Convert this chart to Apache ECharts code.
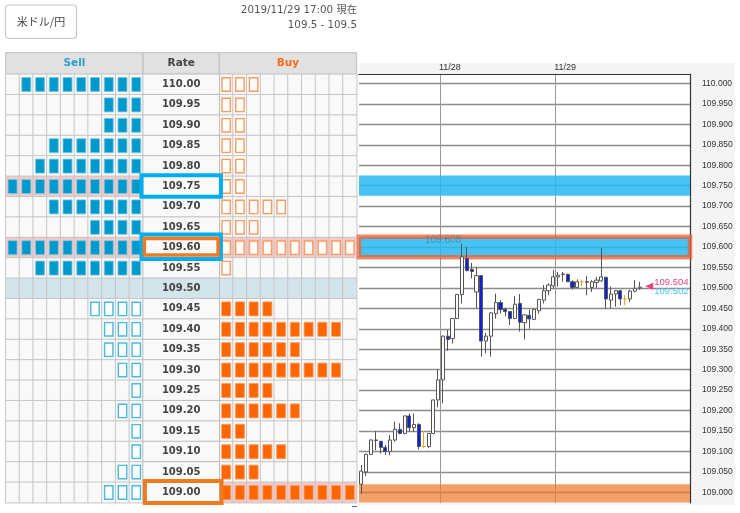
<!DOCTYPE html>
<html>
<head>
<meta charset="utf-8">
<style>
html, body { margin: 0; padding: 0; background: #fff; }
#main { width: 740px; height: 513px; }
</style>
<script src="https://cdn.jsdelivr.net/npm/echarts@6/dist/echarts.min.js"></script>
</head>
<body>
<div id="main"></div>
<script>
// order book
var rates = ['110.00', '109.95', '109.90', '109.85', '109.80', '109.75', '109.70', '109.65', '109.60', '109.55', '109.50',
    '109.45', '109.40', '109.35', '109.30', '109.25', '109.20', '109.15', '109.10', '109.05', '109.00'];
var sellCounts = [9, 3, 3, 7, 8, 10, 7, 4, 10, 8, 0, 4, 3, 3, 2, 1, 2, 1, 1, 2, 3];
var buyCounts = [3, 2, 2, 2, 2, 2, 5, 3, 10, 1, 0, 4, 9, 6, 9, 4, 6, 2, 5, 3, 10];
var currentRate = '109.50';
var sellMarked = ['109.75', '109.60'];
var buyMarked = ['109.60', '109.00'];

// hourly candles, from 11/27 07:00 to 11/29 17:00
var opens = [109.020, 109.050, 109.093, 109.128, 109.125, 109.110, 109.100, 109.128, 109.154, 109.144,
    109.187, 109.158, 109.166, 109.112, 109.112, 109.144, 109.226, 109.275, 109.382, 109.376,
    109.425, 109.484, 109.572, 109.545, 109.490, 109.530, 109.370, 109.382, 109.437, 109.464,
    109.448, 109.442, 109.425, 109.462, 109.415, 109.433, 109.423, 109.444, 109.470, 109.493,
    109.505, 109.527, 109.534, 109.533, 109.515, 109.501, 109.515, 109.515, 109.501, 109.513,
    109.517, 109.526, 109.470, 109.485, 109.493, 109.473, 109.473, 109.492, 109.499];
var closes = [109.052, 109.093, 109.128, 109.127, 109.110, 109.100, 109.128, 109.154, 109.144, 109.187,
    109.158, 109.166, 109.112, 109.112, 109.144, 109.226, 109.275, 109.382, 109.374, 109.425,
    109.484, 109.576, 109.542, 109.540, 109.530, 109.370, 109.382, 109.439, 109.464, 109.447,
    109.442, 109.425, 109.460, 109.416, 109.434, 109.424, 109.447, 109.472, 109.493, 109.507,
    109.527, 109.531, 109.533, 109.515, 109.501, 109.515, 109.515, 109.514, 109.515, 109.519,
    109.527, 109.473, 109.485, 109.493, 109.473, 109.473, 109.492, 109.499, 109.502];
var lows = [108.997, 109.040, 109.092, 109.103, 109.095, 109.091, 109.091, 109.124, 109.142, 109.142,
    109.148, 109.148, 109.105, 109.108, 109.108, 109.142, 109.208, 109.218, 109.346, 109.364,
    109.424, 109.462, 109.541, 109.523, 109.450, 109.332, 109.340, 109.332, 109.425, 109.437,
    109.431, 109.409, 109.424, 109.393, 109.374, 109.400, 109.421, 109.437, 109.462, 109.482,
    109.499, 109.503, 109.515, 109.514, 109.496, 109.499, 109.503, 109.482, 109.490, 109.499,
    109.515, 109.449, 109.450, 109.454, 109.458, 109.458, 109.466, 109.489, 109.495];
var highs = [109.067, 109.095, 109.130, 109.150, 109.125, 109.116, 109.140, 109.173, 109.169, 109.187,
    109.193, 109.193, 109.169, 109.150, 109.144, 109.227, 109.301, 109.384, 109.397, 109.425,
    109.485, 109.608, 109.600, 109.561, 109.550, 109.530, 109.390, 109.440, 109.486, 109.470,
    109.452, 109.442, 109.480, 109.485, 109.435, 109.447, 109.448, 109.473, 109.507, 109.511,
    109.544, 109.539, 109.539, 109.535, 109.519, 109.521, 109.519, 109.529, 109.519, 109.527,
    109.598, 109.527, 109.503, 109.495, 109.495, 109.482, 109.495, 109.519, 109.515];
var yellowCandles = [13, 46, 55];
var highLabel = '109.608';
var askPrice = 109.504;
var bidPrice = 109.502;
var yTicks = [110.00, 109.95, 109.90, 109.85, 109.80, 109.75, 109.70, 109.65, 109.60, 109.55, 109.50,
    109.45, 109.40, 109.35, 109.30, 109.25, 109.20, 109.15, 109.10, 109.05, 109.00];
var dayLabels = {17: '11/28', 41: '11/29'};

var SLOTS = 69;
var BLUE = '#0099cc', ORANGE = '#ff6600';
var LINE = '#c6c6c6';

var hours = [];
for (var h = 0; h < SLOTS; h++) {
    hours.push(String(h));
}
var cols = [];
for (var c = 0; c < 10; c++) {
    cols.push(String(c));
}

function cells(marked, pink) {
    var out = [];
    rates.forEach(function (r, row) {
        cols.forEach(function (col, i) {
            var bg = '#f9f9f9';
            if (r === currentRate) bg = '#d3e5ea';
            else if (marked.indexOf(r) >= 0) bg = pink;
            out.push({value: [i, row, 1], itemStyle: {color: bg}});
        });
    });
    return out;
}

// blocks grow out from the rate column, above or below the current rate
function blocks(counts, fromRight, above) {
    var out = [];
    var mid = rates.indexOf(currentRate);
    counts.forEach(function (n, row) {
        if ((row < mid) !== above) return;
        for (var i = 0; i < n; i++) {
            out.push([fromRight ? 9 - i : i, row]);
        }
    });
    return out;
}

function boxRenderer(w, h, dx, dy, style) {
    return function (params, api) {
        var p = api.coord([api.value(0), api.value(1)]);
        return {
            type: 'rect',
            shape: {x: p[0] - w / 2 + dx, y: p[1] - h / 2 + dy, width: w, height: h},
            style: style
        };
    };
}

function blockSeries(idx, data, filled, color, edge) {
    return {
        type: 'custom', xAxisIndex: idx, yAxisIndex: idx, data: data, silent: true, z: 4,
        renderItem: filled
            ? boxRenderer(9, 14, 0, 0, {fill: color, stroke: edge, lineWidth: 0.8})
            : boxRenderer(8.4, 13.4, 0, 0, {fill: '#fff', stroke: edge, lineWidth: 1.4})
    };
}

function rateBox(rate, w, h, color, width, dx, dy) {
    return {
        type: 'custom', xAxisIndex: 1, yAxisIndex: 1, data: [[0, rates.indexOf(rate)]], silent: true, z: 6,
        renderItem: boxRenderer(w, h, dx, dy, {fill: 'rgba(0,0,0,0)', stroke: color, lineWidth: width})
    };
}

var rateCells = rates.map(function (r, row) {
    return {value: [0, row, 1], itemStyle: {color: r === currentRate ? '#d3e5ea' : '#f9f9f9'}};
});

function tableAxes(idx, cats, left, width) {
    return {
        grid: {left: left, width: width, top: 74.3, height: 428.4},
        x: {type: 'category', gridIndex: idx, data: cats, axisLine: {show: false}, axisTick: {show: false},
            axisLabel: {show: false}, splitLine: {show: false}},
        y: {type: 'category', gridIndex: idx, data: rates, inverse: true, axisLine: {show: false}, axisTick: {show: false},
            axisLabel: {show: false}, splitLine: {show: false}}
    };
}

var sellAxes = tableAxes(0, cols, 5.7, 137.4);
var rateAxes = tableAxes(1, ['Rate'], 143.1, 76.2);
var buyAxes = tableAxes(2, cols, 219.3, 137.4);

var candles = opens.map(function (o, i) {
    var item = {value: [o, closes[i], lows[i], highs[i]]};
    if (yellowCandles.indexOf(i) >= 0) {
        item.itemStyle = {borderColorDoji: '#e8a820', color: '#e8a820', color0: '#e8a820', borderColor: '#e8a820', borderColor0: '#e8a820'};
    }
    return item;
});

var headerFont = 'bold 10.5px "DejaVu Sans"';

function headerCell(x, w, label, color) {
    return [
        {type: 'rect', shape: {x: x, y: 52.7, width: w, height: 21.6}, style: {fill: '#e1e1e1', stroke: '#bdbdbd', lineWidth: 1}},
        {type: 'text', x: x + w / 2, y: 63.5, style: {text: label, fill: color, font: headerFont, align: 'center', verticalAlign: 'middle'}}
    ];
}

var myChart = echarts.init(document.getElementById('main'));

var option = {
    animation: false,
    backgroundColor: '#fff',
    title: [
        {text: '2019/11/29 17:00 現在', right: 383, top: 5, padding: 0,
            textStyle: {fontFamily: '"DejaVu Sans","Noto Sans CJK JP"', fontSize: 10.3, fontWeight: 'normal', color: '#555'}},
        {text: '109.5 - 109.5', right: 383, top: 20, padding: 0,
            textStyle: {fontFamily: '"DejaVu Sans"', fontSize: 10.3, fontWeight: 'normal', color: '#555'}}
    ],
    graphic: [
        {type: 'rect', z: -1, shape: {x: 359, y: 63, width: 376, height: 442}, style: {fill: '#f4f4f4'}},
        {type: 'rect', shape: {x: 352, y: 506, width: 5, height: 1}, style: {fill: '#4a6ea8'}},
        {type: 'rect', shape: {x: 5.5, y: 5, width: 71, height: 33.5, r: 3}, style: {fill: '#fff', stroke: '#c8c8c8', lineWidth: 1.2}},
        {type: 'text', x: 41, y: 22, style: {text: '米ドル/円', fill: '#444', font: '11px "Noto Sans CJK JP"', align: 'center', verticalAlign: 'middle'}}
    ]
        .concat(headerCell(5.7, 137.4, 'Sell', '#2a9fd0'))
        .concat(headerCell(143.1, 76.2, 'Rate', '#444'))
        .concat(headerCell(219.3, 137.4, 'Buy', '#ff6a13')),
    grid: [
        sellAxes.grid, rateAxes.grid, buyAxes.grid,
        {left: 359, width: 331, top: 74, height: 429, show: true, backgroundColor: '#fff', borderWidth: 0}
    ],
    xAxis: [
        sellAxes.x, rateAxes.x, buyAxes.x,
        {
            type: 'category', gridIndex: 3, data: hours, position: 'top',
            axisLine: {show: true, lineStyle: {color: '#333', width: 1.2}},
            axisTick: {show: false},
            axisLabel: {
                show: true, interval: 0, align: 'center', margin: 2, padding: [0, 0, 0, 14],
                fontFamily: '"Liberation Sans"', fontSize: 9, color: '#333',
                formatter: function (v, i) { return dayLabels[i] || ''; }
            },
            splitLine: {
                show: true,
                interval: function (i) { return dayLabels[i] !== undefined; },
                lineStyle: {color: '#999', width: 1}
            }
        }
    ],
    yAxis: [
        sellAxes.y, rateAxes.y, buyAxes.y,
        {
            type: 'value', gridIndex: 3, position: 'right', min: 108.974, max: 110.023, scale: true,
            axisLine: {show: true, lineStyle: {color: '#333', width: 1.2}},
            axisTick: {show: false, customValues: yTicks},
            axisLabel: {
                show: true, margin: 12, customValues: yTicks, showMinLabel: true, showMaxLabel: true,
                fontFamily: '"Liberation Sans"', fontSize: 8.5, color: '#333',
                formatter: function (v) { return v.toFixed(3); }
            },
            splitLine: {show: true, lineStyle: {color: '#8c8c8c', width: 1.3}}
        }
    ],
    series: [
        {type: 'heatmap', xAxisIndex: 0, yAxisIndex: 0, data: cells(sellMarked, '#f6c9c9'), silent: true, z: 1,
            itemStyle: {borderColor: LINE, borderWidth: 1}},
        {type: 'heatmap', xAxisIndex: 2, yAxisIndex: 2, data: cells(buyMarked, '#f6c9c9'), silent: true, z: 1,
            itemStyle: {borderColor: LINE, borderWidth: 1}},
        {type: 'heatmap', xAxisIndex: 1, yAxisIndex: 1, data: rateCells, silent: true, z: 1,
            itemStyle: {borderColor: '#bdbdbd', borderWidth: 1},
            label: {show: true, color: '#444', fontFamily: '"DejaVu Sans"', fontWeight: 'bold', fontSize: 10,
                formatter: function (p) { return rates[p.value[1]]; }}},
        blockSeries(0, blocks(sellCounts, true, true), true, BLUE, '#7cc8e4'),
        blockSeries(0, blocks(sellCounts, true, false), false, BLUE, '#46bbe3'),
        blockSeries(2, blocks(buyCounts, false, true), false, ORANGE, '#ff9a5c'),
        blockSeries(2, blocks(buyCounts, false, false), true, ORANGE, '#ff9a5c'),
        rateBox('109.75', 79.4, 21.6, '#00aeef', 4, 0, -0.5),
        rateBox('109.60', 79.4, 24.6, '#00aeef', 4, 0, -1),
        rateBox('109.60', 73.8, 16.5, '#ee7b22', 3.5, 0, -1),
        rateBox('109.00', 76.6, 22, '#ee7b22', 4, 2, -0.5),
        {
            type: 'candlestick', xAxisIndex: 3, yAxisIndex: 3, data: candles, barWidth: 3.6, silent: true, z: 5,
            clip: false,
            itemStyle: {color: '#fff', color0: '#0a22dc', borderColor: '#555', borderColor0: '#555', borderColorDoji: '#222', borderWidth: 1},
            markArea: {
                silent: true, z: 3, clip: false,
                data: [
                    [{yAxis: 109.775, itemStyle: {color: 'rgba(38,184,240,0.85)', borderWidth: 0}}, {yAxis: 109.725}],
                    [{yAxis: 109.625, itemStyle: {color: 'rgba(38,184,240,0.85)', borderColor: 'rgba(240,96,50,0.75)', borderWidth: 4.5}}, {yAxis: 109.575}],
                    [{yAxis: 109.020, itemStyle: {color: 'rgba(236,120,40,0.7)', borderWidth: 0}}, {yAxis: 108.975}]
                ]
            },
            markPoint: {
                silent: true, animation: false,
                data: [
                    {coord: [21, 109.608], symbol: 'circle', symbolSize: 0,
                        label: {show: true, position: 'inside', formatter: highLabel, color: 'rgba(70,110,130,0.55)', fontSize: 10, fontFamily: '"Liberation Sans"', offset: [-19, -3]}},
                    {coord: [60, askPrice], symbol: 'triangle', symbolRotate: 90, symbolSize: [7, 8],
                        itemStyle: {color: '#f0407f'},
                        label: {show: true, position: 'right', distance: 0, formatter: askPrice.toFixed(3), color: '#f0407f', fontSize: 9.5, fontFamily: '"Liberation Sans"', offset: [1, -3.5]}},
                    {coord: [60, bidPrice], symbol: 'circle', symbolSize: 0,
                        label: {show: true, position: 'right', distance: 0, formatter: bidPrice.toFixed(3), color: '#45c4ee', fontSize: 9.5, fontFamily: '"Liberation Sans"', offset: [5, 4]}}
                ]
            }
        }
    ]
};
myChart.setOption(option);
</script>
</body>
</html>
